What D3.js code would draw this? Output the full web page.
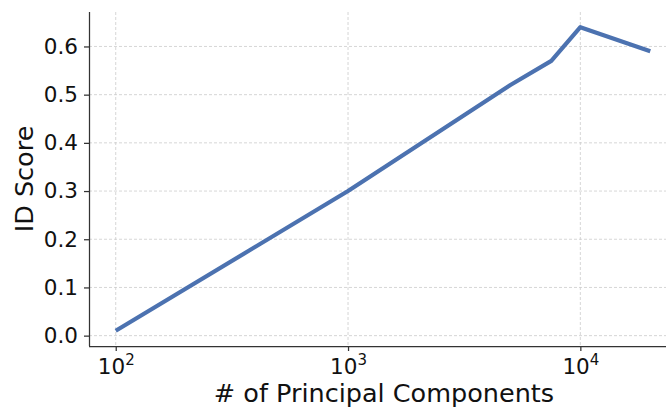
<!DOCTYPE html>
<html>
<head>
<meta charset="utf-8">
<script src="https://cdn.jsdelivr.net/npm/d3@7"></script>
<style>
body { margin: 0; background: #fff; }
svg { display: block; font-family: "DejaVu Sans", sans-serif; }
</style>
</head>
<body>
<div id="wrapper"></div>
<script>
// data
const components = [100, 1000, 5000, 7500, 10000, 20000];
const idScore = [0.01, 0.30, 0.52, 0.57, 0.64, 0.59];
const xTicks = [100, 1000, 10000];
const yTicks = [0.0, 0.1, 0.2, 0.3, 0.4, 0.5, 0.6];

let dimensions = {
  width: 666,
  height: 411,
  margin: { top: 12, right: -11, bottom: 65, left: 89 },
};
dimensions.boundedWidth = dimensions.width - dimensions.margin.left - dimensions.margin.right;
dimensions.boundedHeight = dimensions.height - dimensions.margin.top - dimensions.margin.bottom;

const svg = d3.select("#wrapper").append("svg")
  .attr("width", dimensions.width)
  .attr("height", dimensions.height);

const bounds = svg.append("g")
  .attr("transform", `translate(${dimensions.margin.left},${dimensions.margin.top})`);

// matplotlib style 5% margins in log space
const lx0 = Math.log10(d3.min(components)), lx1 = Math.log10(d3.max(components));
const padX = (lx1 - lx0) * 0.05;
const xScale = d3.scaleLog()
  .domain([Math.pow(10, lx0 - padX), Math.pow(10, lx1 + padX)])
  .range([0, dimensions.boundedWidth]);

const y0 = d3.min(idScore), y1 = d3.max(idScore);
const padY = (y1 - y0) * 0.05;
const yScale = d3.scaleLinear()
  .domain([y0 - padY, y1 + padY])
  .range([dimensions.boundedHeight, 0]);

// grid
const grid = bounds.append("g")
  .attr("stroke", "#cccccc")
  .attr("stroke-width", 0.8)
  .attr("stroke-dasharray", "3,2");
grid.selectAll(".gx").data(xTicks).join("line")
  .attr("x1", d => xScale(d)).attr("x2", d => xScale(d))
  .attr("y1", 0).attr("y2", dimensions.boundedHeight);
grid.selectAll(".gy").data(yTicks).join("line")
  .attr("x1", 0).attr("x2", dimensions.boundedWidth)
  .attr("y1", d => yScale(d)).attr("y2", d => yScale(d));

// line
const lineGenerator = d3.line()
  .x((d, i) => xScale(components[i]))
  .y(d => yScale(d));
bounds.append("path")
  .attr("d", lineGenerator(idScore))
  .attr("fill", "none")
  .attr("stroke", "#4C72B0")
  .attr("stroke-width", 4.2)
  .attr("stroke-linejoin", "round");

// axes
const yAxisGenerator = d3.axisLeft(yScale)
  .tickValues(yTicks)
  .tickFormat(d3.format(".1f"))
  .tickSize(5)
  .tickPadding(6);
const yAxis = bounds.append("g").call(yAxisGenerator);
yAxis.attr("font-size", null).attr("font-family", null);
yAxis.select(".domain").attr("stroke", "#333").attr("stroke-width", 1.25)
  .attr("d", `M0.5,0V${dimensions.boundedHeight}`);
yAxis.selectAll(".tick line").attr("stroke", "#333").attr("stroke-width", 1.25);
yAxis.selectAll(".tick text")
  .style("font-size", "21.5px")
  .attr("fill", "#111");

const xAxisGenerator = d3.axisBottom(xScale)
  .tickValues(xTicks)
  .tickFormat("")
  .tickSize(5);
const xAxis = bounds.append("g")
  .attr("transform", `translate(0,${dimensions.boundedHeight})`)
  .call(xAxisGenerator);
xAxis.attr("font-size", null).attr("font-family", null);
xAxis.select(".domain").attr("stroke", "#333").attr("stroke-width", 1.25)
  .attr("d", `M0,0.5H${dimensions.boundedWidth}`);
xAxis.selectAll(".tick line").attr("stroke", "#333").attr("stroke-width", 1.25);
const xt = xAxis.selectAll(".tick").append("text")
  .attr("y", 28)
  .attr("fill", "#111")
  .style("font-size", "21.5px")
  .attr("text-anchor", "middle");
xt.append("tspan").text("10");
xt.append("tspan").attr("dy", -9).style("font-size", "15px")
  .text(d => Math.round(Math.log10(d)));

// labels
svg.append("text")
  .attr("x", 384)
  .attr("y", 402)
  .attr("text-anchor", "middle")
  .style("font-size", "25.5px")
  .attr("fill", "#111")
  .text("# of Principal Components");

svg.append("text")
  .attr("transform", `translate(33,${dimensions.margin.top + dimensions.boundedHeight / 2}) rotate(-90)`)
  .attr("text-anchor", "middle")
  .style("font-size", "25.5px")
  .attr("fill", "#111")
  .text("ID Score");
</script>
</body>
</html>
